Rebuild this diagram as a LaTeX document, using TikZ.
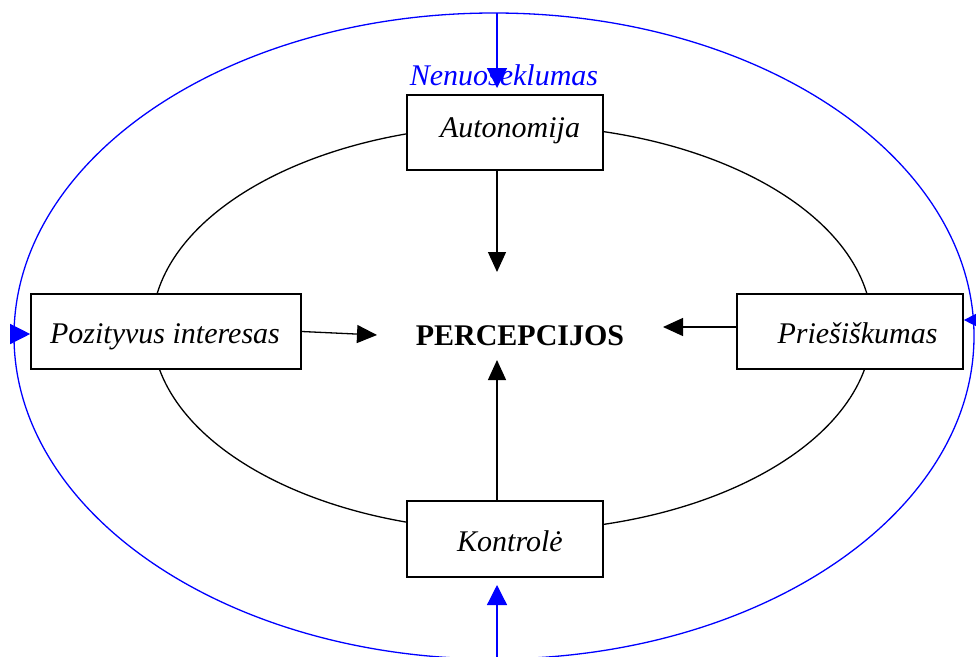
\documentclass[tikz,border=0pt]{standalone}
\usepackage{fontspec}
\setmainfont{Liberation Serif}
\usetikzlibrary{arrows.meta}
\begin{document}
\begin{tikzpicture}[x=1pt,y=-1pt,
  boxst/.style={draw=black,line width=1.6pt,fill=white,rectangle,inner sep=0pt,minimum height=75pt},
  lbl/.style={anchor=base,inner sep=0pt,font=\fontsize{30}{34}\selectfont\itshape},
  arr/.style={line width=1.3pt,-{Triangle[length=20pt,width=18pt]}},
  barr/.style={blue,line width=1.3pt,-{Triangle[length=20pt,width=20pt]}}]
\useasboundingbox (0,0) rectangle (976,656);
\clip (0,0) rectangle (976,656);
% outer and inner ellipses
\draw[blue,line width=1.3pt] (494,336) ellipse [x radius=480, y radius=323];
\draw[black,line width=1.3pt] (512,328) ellipse [x radius=360, y radius=203];
% boxes
\node[boxst,minimum width=196pt] (auto) at (505,132.5) {};
\node[boxst,minimum width=270pt] (poz) at (166,331.5) {};
\node[boxst,minimum width=226pt] (pries) at (850,331.5) {};
\node[boxst,minimum width=196pt,minimum height=76pt] (kont) at (505,539) {};
% texts
\node[lbl] (tauto) at (510,137) {Autonomija};
\node[lbl] (tpoz) at (165,343) {Pozityvus interesas};
\node[lbl] (tpries) at (857.5,343) {Priešiškumas};
\node[lbl] (tkont) at (510,551) {Kontrolė};
\node[anchor=base,inner sep=0pt,font=\fontsize{30}{34}\selectfont\bfseries] (perc) at (520,345) {PERCEPCIJOS};
% black arrows
\coordinate (tipA) at (497,272);
\coordinate (tipK) at (497,360);
\coordinate (tipP) at (377,335);
\coordinate (tipR) at (663,327);
\draw[arr] (auto.south -| tipA) -- (tipA);
\draw[arr] (kont.north -| tipK) -- (tipK);
\draw[arr] (poz.east) -- (tipP);
\draw[arr] (pries.west |- tipR) -- (tipR);
% blue arrows
\coordinate (topE) at (497,13);
\coordinate (topT) at (497,88);
\coordinate (botE) at (497,660);
\coordinate (botT) at (497,585);
\coordinate (leftE) at (13,334);
\coordinate (rightE) at (983,320);
\draw[barr] (topE) -- (topT);
\draw[barr] (botE) -- (botT);
\draw[barr] (leftE) -- (poz.west |- leftE);
\draw[barr] (rightE) -- (pries.east |- rightE);
\node[lbl,text=blue] (nen) at (504,85) {Nenuoseklumas};
\end{tikzpicture}
\end{document}
